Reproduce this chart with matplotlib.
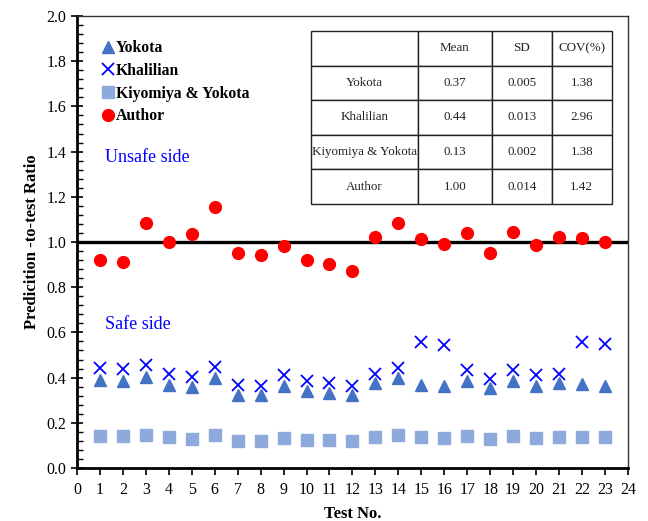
import matplotlib
matplotlib.use("Agg")
import matplotlib.pyplot as plt
from matplotlib.ticker import MultipleLocator, FormatStrFormatter

# test numbers 1..23
test_no = list(range(1, 24))

yokota = [0.389, 0.386, 0.401, 0.368, 0.357, 0.398, 0.324, 0.323, 0.364, 0.340, 0.334, 0.323,
          0.374, 0.398, 0.368, 0.361, 0.383, 0.352, 0.386, 0.365, 0.374, 0.370, 0.364]
khalilian = [0.441, 0.436, 0.454, 0.415, 0.401, 0.448, 0.367, 0.362, 0.410, 0.383, 0.377, 0.365,
             0.415, 0.442, 0.557, 0.545, 0.433, 0.395, 0.433, 0.410, 0.418, 0.557, 0.548]
kiyomiya = [0.143, 0.142, 0.146, 0.136, 0.130, 0.145, 0.121, 0.119, 0.133, 0.125, 0.124, 0.118,
            0.137, 0.146, 0.136, 0.133, 0.140, 0.130, 0.140, 0.134, 0.137, 0.137, 0.136]
author = [0.920, 0.913, 1.083, 0.999, 1.037, 1.156, 0.950, 0.944, 0.982, 0.920, 0.903, 0.873,
          1.021, 1.085, 1.015, 0.991, 1.038, 0.953, 1.043, 0.988, 1.022, 1.018, 1.000]

# summary table
table_cols = ["", "Mean", "SD", "COV(%)"]
table_rows = [
    ["Yokota", "0.37", "0.005", "1.38"],
    ["Khalilian", "0.44", "0.013", "2.96"],
    ["Kiyomiya & Yokota", "0.13", "0.002", "1.38"],
    ["Author", "1.00", "0.014", "1.42"],
]

SERIF = "Liberation Serif"

fig = plt.figure(figsize=(6.48, 5.21), dpi=100)
ax = fig.add_axes([0.1188, 0.1017, 0.8502, 0.8676])

ax.plot(test_no, yokota, "^", color="#4472C4", ms=9, label="Yokota")
ax.plot(test_no, khalilian, "x", color="#0000FF", ms=8.5, mew=1.3, label="Khalilian")
ax.plot(test_no, kiyomiya, "s", color="#8EA9DB", ms=8, label="Kiyomiya & Yokota")
ax.plot(test_no, author, "o", color="#FF0000", ms=8.5, label="Author")

ax.axhline(1.0, color="black", linewidth=2.4, zorder=1)

ax.set_xlim(0, 24)
ax.set_ylim(0, 2.0)
ax.xaxis.set_major_locator(MultipleLocator(1))
ax.yaxis.set_major_locator(MultipleLocator(0.2))
ax.yaxis.set_minor_locator(MultipleLocator(0.04))
ax.yaxis.set_major_formatter(FormatStrFormatter("%.1f"))

ax.tick_params(axis="x", direction="out", length=5, width=1.2, labelsize=11.5, pad=5)
ax.tick_params(axis="y", which="major", direction="inout", length=8, width=1.2, labelsize=11.5)
ax.tick_params(axis="y", which="minor", direction="in", length=4, width=1.0)
for lab in ax.get_xticklabels() + ax.get_yticklabels():
    lab.set_fontfamily(SERIF)

ax.spines["left"].set_linewidth(2.0)
ax.spines["bottom"].set_linewidth(2.0)
ax.spines["top"].set_linewidth(1.0)
ax.spines["right"].set_linewidth(1.0)
ax.spines["top"].set_color("#333333")
ax.spines["right"].set_color("#333333")

ax.set_xlabel("Test No.", fontsize=12, fontweight="bold", family=SERIF, labelpad=6)
ax.set_ylabel("Predicition -to-test Ratio", fontsize=12, fontweight="bold", family=SERIF, labelpad=5)

ax.text(1.2, 1.372, "Unsafe side", color="#0000FF", fontsize=13, family=SERIF, va="center")
ax.text(1.2, 0.633, "Safe side", color="#0000FF", fontsize=13, family=SERIF, va="center")

ax.legend(loc="upper left", bbox_to_anchor=(0.033, 0.96), frameon=False,
          prop={"family": SERIF, "weight": "bold", "size": 11.3},
          handlelength=0.8, handletextpad=0.1, labelspacing=0.42, borderaxespad=0)

tbl = ax.table(cellText=table_rows, colLabels=table_cols,
               colWidths=[107, 74, 60, 60], cellLoc="center",
               bbox=[0.4247, 0.584, 0.546, 0.383])
tbl.auto_set_font_size(False)
for (r, c), cell in tbl.get_celld().items():
    cell.set_linewidth(1.0)
    cell.set_edgecolor("#222222")
    cell.PAD = 0.02
    cell.get_text().set_fontfamily(SERIF)
    cell.get_text().set_fontsize(9.4)
    cell.get_text().set_color("#222222")

fig.savefig("out.png", dpi=100)
